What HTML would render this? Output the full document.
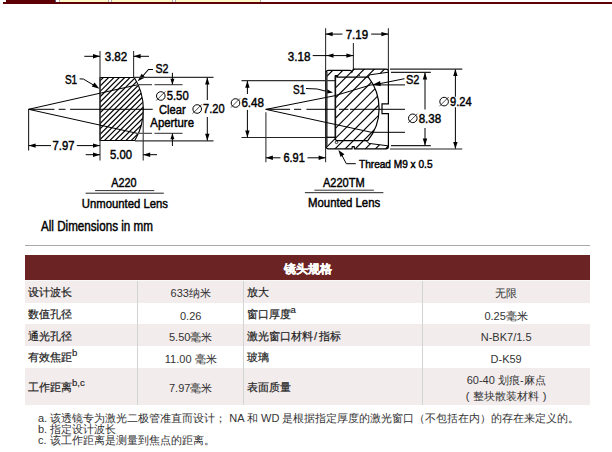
<!DOCTYPE html>
<html><head><meta charset="utf-8"><style>
html,body{margin:0;padding:0;background:#fff;width:612px;height:452px;overflow:hidden;position:relative;font-family:"Liberation Sans",sans-serif;}
.abs{position:absolute}
.tb{position:absolute;left:25px;top:255px;width:565px;}
.row{position:absolute;left:25px;width:565px;}
.c{position:absolute;top:0;bottom:0;font-size:11px;color:#222;}
</style></head><body>
<!-- top tabs -->
<div class="abs" style="left:3px;top:2px;width:609px;height:2px;background:#5e0004"></div>
<div class="abs" style="left:6px;top:0;width:49px;height:2px;background:#5e0004"></div>
<div class="abs" style="left:55px;top:0;width:1px;height:2px;background:#4a5a7a"></div>
<div class="abs" style="left:59px;top:0;width:1px;height:2px;background:#aaa"></div>
<div class="abs" style="left:60px;top:0;width:48px;height:2px;background:#fff8c8"></div>
<div class="abs" style="left:108px;top:0;width:1px;height:2px;background:#aaa"></div>
<div class="abs" style="left:111px;top:0;width:1px;height:2px;background:#aaa"></div>
<div class="abs" style="left:112px;top:0;width:60px;height:2px;background:#fff8c8"></div>
<div class="abs" style="left:172px;top:0;width:1px;height:2px;background:#aaa"></div>
<div class="abs" style="left:175px;top:0;width:1px;height:2px;background:#aaa"></div>
<div class="abs" style="left:176px;top:0;width:84px;height:2px;background:#fff8c8"></div>
<div class="abs" style="left:260px;top:0;width:1px;height:2px;background:#aaa"></div>
<svg width="612" height="240" style="position:absolute;left:0;top:0" font-family="Liberation Sans, sans-serif" fill="#000"><defs><clipPath id="c1"><path d="M100,77.5 L134.3,77.5 A60.8,60.8 0 0 1 134.8,140.5 L100,140.5 Z"/></clipPath><clipPath id="c2"><path id="mountp" d=""/></clipPath></defs><g clip-path="url(#c1)"><line x1="-190.7" y1="157.5" x2="-100.7" y2="67.5" stroke="#000" stroke-width="1.2"/><line x1="-185.34999999999997" y1="157.5" x2="-95.34999999999998" y2="67.5" stroke="#000" stroke-width="1.2"/><line x1="-180.0" y1="157.5" x2="-89.99999999999999" y2="67.5" stroke="#000" stroke-width="1.2"/><line x1="-174.64999999999998" y1="157.5" x2="-84.64999999999999" y2="67.5" stroke="#000" stroke-width="1.2"/><line x1="-169.3" y1="157.5" x2="-79.3" y2="67.5" stroke="#000" stroke-width="1.2"/><line x1="-163.95" y1="157.5" x2="-73.95" y2="67.5" stroke="#000" stroke-width="1.2"/><line x1="-158.59999999999997" y1="157.5" x2="-68.59999999999998" y2="67.5" stroke="#000" stroke-width="1.2"/><line x1="-153.25" y1="157.5" x2="-63.249999999999986" y2="67.5" stroke="#000" stroke-width="1.2"/><line x1="-147.89999999999998" y1="157.5" x2="-57.89999999999999" y2="67.5" stroke="#000" stroke-width="1.2"/><line x1="-142.55" y1="157.5" x2="-52.55" y2="67.5" stroke="#000" stroke-width="1.2"/><line x1="-137.2" y1="157.5" x2="-47.2" y2="67.5" stroke="#000" stroke-width="1.2"/><line x1="-131.84999999999997" y1="157.5" x2="-41.84999999999998" y2="67.5" stroke="#000" stroke-width="1.2"/><line x1="-126.49999999999999" y1="157.5" x2="-36.499999999999986" y2="67.5" stroke="#000" stroke-width="1.2"/><line x1="-121.14999999999999" y1="157.5" x2="-31.14999999999999" y2="67.5" stroke="#000" stroke-width="1.2"/><line x1="-115.8" y1="157.5" x2="-25.799999999999997" y2="67.5" stroke="#000" stroke-width="1.2"/><line x1="-110.45" y1="157.5" x2="-20.450000000000003" y2="67.5" stroke="#000" stroke-width="1.2"/><line x1="-105.09999999999998" y1="157.5" x2="-15.09999999999998" y2="67.5" stroke="#000" stroke-width="1.2"/><line x1="-99.75" y1="157.5" x2="-9.75" y2="67.5" stroke="#000" stroke-width="1.2"/><line x1="-94.39999999999999" y1="157.5" x2="-4.3999999999999915" y2="67.5" stroke="#000" stroke-width="1.2"/><line x1="-89.05" y1="157.5" x2="0.9500000000000028" y2="67.5" stroke="#000" stroke-width="1.2"/><line x1="-83.7" y1="157.5" x2="6.299999999999997" y2="67.5" stroke="#000" stroke-width="1.2"/><line x1="-78.35" y1="157.5" x2="11.650000000000006" y2="67.5" stroke="#000" stroke-width="1.2"/><line x1="-73.0" y1="157.5" x2="17.0" y2="67.5" stroke="#000" stroke-width="1.2"/><line x1="-67.64999999999999" y1="157.5" x2="22.35000000000001" y2="67.5" stroke="#000" stroke-width="1.2"/><line x1="-62.3" y1="157.5" x2="27.700000000000003" y2="67.5" stroke="#000" stroke-width="1.2"/><line x1="-56.95" y1="157.5" x2="33.05" y2="67.5" stroke="#000" stroke-width="1.2"/><line x1="-51.599999999999994" y1="157.5" x2="38.400000000000006" y2="67.5" stroke="#000" stroke-width="1.2"/><line x1="-46.25" y1="157.5" x2="43.75" y2="67.5" stroke="#000" stroke-width="1.2"/><line x1="-40.89999999999999" y1="157.5" x2="49.10000000000001" y2="67.5" stroke="#000" stroke-width="1.2"/><line x1="-35.55" y1="157.5" x2="54.45" y2="67.5" stroke="#000" stroke-width="1.2"/><line x1="-30.200000000000003" y1="157.5" x2="59.8" y2="67.5" stroke="#000" stroke-width="1.2"/><line x1="-24.85" y1="157.5" x2="65.15" y2="67.5" stroke="#000" stroke-width="1.2"/><line x1="-19.5" y1="157.5" x2="70.5" y2="67.5" stroke="#000" stroke-width="1.2"/><line x1="-14.150000000000006" y1="157.5" x2="75.85" y2="67.5" stroke="#000" stroke-width="1.2"/><line x1="-8.799999999999997" y1="157.5" x2="81.2" y2="67.5" stroke="#000" stroke-width="1.2"/><line x1="-3.450000000000003" y1="157.5" x2="86.55" y2="67.5" stroke="#000" stroke-width="1.2"/><line x1="1.9000000000000057" y1="157.5" x2="91.9" y2="67.5" stroke="#000" stroke-width="1.2"/><line x1="7.25" y1="157.5" x2="97.25" y2="67.5" stroke="#000" stroke-width="1.2"/><line x1="12.599999999999994" y1="157.5" x2="102.6" y2="67.5" stroke="#000" stroke-width="1.2"/><line x1="17.950000000000003" y1="157.5" x2="107.95" y2="67.5" stroke="#000" stroke-width="1.2"/><line x1="23.299999999999997" y1="157.5" x2="113.3" y2="67.5" stroke="#000" stroke-width="1.2"/><line x1="28.64999999999999" y1="157.5" x2="118.64999999999999" y2="67.5" stroke="#000" stroke-width="1.2"/><line x1="34.0" y1="157.5" x2="124.0" y2="67.5" stroke="#000" stroke-width="1.2"/><line x1="39.349999999999994" y1="157.5" x2="129.35" y2="67.5" stroke="#000" stroke-width="1.2"/><line x1="44.69999999999999" y1="157.5" x2="134.7" y2="67.5" stroke="#000" stroke-width="1.2"/><line x1="50.05000000000001" y1="157.5" x2="140.05" y2="67.5" stroke="#000" stroke-width="1.2"/><line x1="55.39999999999998" y1="157.5" x2="145.39999999999998" y2="67.5" stroke="#000" stroke-width="1.2"/><line x1="60.75" y1="157.5" x2="150.75" y2="67.5" stroke="#000" stroke-width="1.2"/><line x1="66.1" y1="157.5" x2="156.1" y2="67.5" stroke="#000" stroke-width="1.2"/><line x1="71.44999999999999" y1="157.5" x2="161.45" y2="67.5" stroke="#000" stroke-width="1.2"/><line x1="76.80000000000001" y1="157.5" x2="166.8" y2="67.5" stroke="#000" stroke-width="1.2"/><line x1="82.14999999999998" y1="157.5" x2="172.14999999999998" y2="67.5" stroke="#000" stroke-width="1.2"/><line x1="87.5" y1="157.5" x2="177.5" y2="67.5" stroke="#000" stroke-width="1.2"/><line x1="92.85" y1="157.5" x2="182.85" y2="67.5" stroke="#000" stroke-width="1.2"/><line x1="98.19999999999999" y1="157.5" x2="188.2" y2="67.5" stroke="#000" stroke-width="1.2"/><line x1="103.55000000000001" y1="157.5" x2="193.55" y2="67.5" stroke="#000" stroke-width="1.2"/><line x1="108.89999999999998" y1="157.5" x2="198.89999999999998" y2="67.5" stroke="#000" stroke-width="1.2"/><line x1="114.25" y1="157.5" x2="204.25" y2="67.5" stroke="#000" stroke-width="1.2"/><line x1="119.6" y1="157.5" x2="209.6" y2="67.5" stroke="#000" stroke-width="1.2"/><line x1="124.94999999999999" y1="157.5" x2="214.95" y2="67.5" stroke="#000" stroke-width="1.2"/><line x1="130.3" y1="157.5" x2="220.3" y2="67.5" stroke="#000" stroke-width="1.2"/><line x1="135.64999999999998" y1="157.5" x2="225.64999999999998" y2="67.5" stroke="#000" stroke-width="1.2"/><line x1="141.0" y1="157.5" x2="231.0" y2="67.5" stroke="#000" stroke-width="1.2"/><line x1="146.35" y1="157.5" x2="236.35" y2="67.5" stroke="#000" stroke-width="1.2"/><line x1="151.7" y1="157.5" x2="241.7" y2="67.5" stroke="#000" stroke-width="1.2"/><line x1="157.05" y1="157.5" x2="247.05" y2="67.5" stroke="#000" stroke-width="1.2"/><line x1="162.39999999999998" y1="157.5" x2="252.39999999999998" y2="67.5" stroke="#000" stroke-width="1.2"/><line x1="167.75" y1="157.5" x2="257.75" y2="67.5" stroke="#000" stroke-width="1.2"/><line x1="173.09999999999997" y1="157.5" x2="263.09999999999997" y2="67.5" stroke="#000" stroke-width="1.2"/><line x1="178.45" y1="157.5" x2="268.45" y2="67.5" stroke="#000" stroke-width="1.2"/><line x1="183.8" y1="157.5" x2="273.8" y2="67.5" stroke="#000" stroke-width="1.2"/><line x1="189.14999999999998" y1="157.5" x2="279.15" y2="67.5" stroke="#000" stroke-width="1.2"/><line x1="194.5" y1="157.5" x2="284.5" y2="67.5" stroke="#000" stroke-width="1.2"/><line x1="199.84999999999997" y1="157.5" x2="289.84999999999997" y2="67.5" stroke="#000" stroke-width="1.2"/><line x1="205.2" y1="157.5" x2="295.2" y2="67.5" stroke="#000" stroke-width="1.2"/><line x1="210.55" y1="157.5" x2="300.55" y2="67.5" stroke="#000" stroke-width="1.2"/><line x1="215.89999999999998" y1="157.5" x2="305.9" y2="67.5" stroke="#000" stroke-width="1.2"/><line x1="221.25" y1="157.5" x2="311.25" y2="67.5" stroke="#000" stroke-width="1.2"/><line x1="226.59999999999997" y1="157.5" x2="316.59999999999997" y2="67.5" stroke="#000" stroke-width="1.2"/><line x1="231.95" y1="157.5" x2="321.95" y2="67.5" stroke="#000" stroke-width="1.2"/></g><path d="M100,77.5 L134.3,77.5 A60.8,60.8 0 0 1 134.8,140.5 L100,140.5 Z" stroke="#000" stroke-width="1.1" fill="none" /><line x1="100" y1="51" x2="100" y2="160.5" stroke="#333" stroke-width="1.1" /><line x1="133.6" y1="51" x2="133.6" y2="77.5" stroke="#333" stroke-width="1.1" /><line x1="143.2" y1="109" x2="143.2" y2="160.5" stroke="#333" stroke-width="1.1" /><line x1="28.6" y1="109.3" x2="28.6" y2="150.5" stroke="#222" stroke-width="1.1" /><line x1="84.3" y1="56.3" x2="100" y2="56.3" stroke="#000" stroke-width="1" /><polygon points="100.00,56.30 93.00,58.50 93.00,54.10" fill="#000"/><line x1="149" y1="56.3" x2="133.6" y2="56.3" stroke="#000" stroke-width="1" /><polygon points="133.60,56.30 140.60,54.10 140.60,58.50" fill="#000"/><text x="104.7" y="61" font-size="13" textLength="22.599999999999994" lengthAdjust="spacingAndGlyphs" font-weight="normal" stroke="#000" stroke-width="0.45">3.82</text><line x1="28.6" y1="145.6" x2="51" y2="145.6" stroke="#000" stroke-width="1" /><polygon points="28.60,145.60 35.60,143.40 35.60,147.80" fill="#000"/><line x1="76.8" y1="145.6" x2="100" y2="145.6" stroke="#000" stroke-width="1" /><polygon points="100.00,145.60 93.00,147.80 93.00,143.40" fill="#000"/><text x="52.5" y="150" font-size="13" textLength="21.900000000000006" lengthAdjust="spacingAndGlyphs" font-weight="normal" stroke="#000" stroke-width="0.45">7.97</text><line x1="85.7" y1="154.7" x2="100" y2="154.7" stroke="#000" stroke-width="1" /><polygon points="100.00,154.70 93.00,156.90 93.00,152.50" fill="#000"/><line x1="157" y1="154.7" x2="143.2" y2="154.7" stroke="#000" stroke-width="1" /><polygon points="143.20,154.70 150.20,152.50 150.20,156.90" fill="#000"/><text x="110" y="158.8" font-size="13" textLength="22" lengthAdjust="spacingAndGlyphs" font-weight="normal" stroke="#000" stroke-width="0.45">5.00</text><text x="64.9" y="83.9" font-size="13.6" textLength="12.299999999999997" lengthAdjust="spacingAndGlyphs" font-weight="normal" stroke="#000" stroke-width="0.45">S1</text><path d="M79.6,78.9 L83.3,79 L95,85.9" stroke="#000" stroke-width="1" fill="none" /><polygon points="99.40,88.70 91.77,86.62 94.55,82.46" fill="#000"/><text x="155.4" y="72.9" font-size="13.6" textLength="13.0" lengthAdjust="spacingAndGlyphs" font-weight="normal" stroke="#000" stroke-width="0.45">S2</text><path d="M153,69.5 L148.5,69.5 L141.5,77.5" stroke="#000" stroke-width="1.1" fill="none" /><polygon points="137.60,81.20 141.61,73.81 145.19,77.58" fill="#000"/><line x1="134" y1="77.4" x2="213.5" y2="77.4" stroke="#333" stroke-width="1.3" /><line x1="135" y1="140.8" x2="213.5" y2="140.8" stroke="#333" stroke-width="1.3" /><path d="M137,84.7 L152,84.7 M154.5,84.7 L182.5,84.7" stroke="#555" stroke-width="1.3" fill="none" /><path d="M137,133.3 L152,133.3 M154.5,133.3 L182.5,133.3" stroke="#555" stroke-width="1.3" fill="none" /><line x1="28.6" y1="109.3" x2="137" y2="84.9" stroke="#000" stroke-width="1" /><line x1="28.6" y1="109.3" x2="137" y2="133.3" stroke="#000" stroke-width="1" /><path d="M28.6,109.3 L54.4,109.3 M58.7,109.3 L65.5,109.3 M70.1,109.3 L152.7,109.3" stroke="#000" stroke-width="1" fill="none" /><line x1="172.4" y1="72.8" x2="172.4" y2="84.5" stroke="#000" stroke-width="1" /><polygon points="172.40,84.70 170.40,78.70 174.40,78.70" fill="#000"/><line x1="172.4" y1="146" x2="172.4" y2="133.5" stroke="#000" stroke-width="1" /><polygon points="172.40,133.30 174.40,139.30 170.40,139.30" fill="#000"/><circle cx="160.8" cy="96.0" r="4.3" fill="none" stroke="#000" stroke-width="1"/><line x1="156.20000000000002" y1="100.6" x2="165.4" y2="91.4" stroke="#000" stroke-width="0.7"/><text x="166.70000000000002" y="100.4" font-size="13" textLength="21.99999999999997" lengthAdjust="spacingAndGlyphs" font-weight="normal" stroke="#000" stroke-width="0.45">5.50</text><text x="159" y="113.9" font-size="13" textLength="26.69999999999999" lengthAdjust="spacingAndGlyphs" font-weight="normal" stroke="#000" stroke-width="0.45">Clear</text><text x="150.3" y="126.8" font-size="13" textLength="43.69999999999999" lengthAdjust="spacingAndGlyphs" font-weight="normal" stroke="#000" stroke-width="0.45">Aperture</text><line x1="207.3" y1="77.6" x2="207.3" y2="100" stroke="#000" stroke-width="1" /><polygon points="207.30,77.40 209.50,84.40 205.10,84.40" fill="#000"/><line x1="207.3" y1="117" x2="207.3" y2="140.6" stroke="#000" stroke-width="1" /><polygon points="207.30,140.80 205.10,133.80 209.50,133.80" fill="#000"/><circle cx="197.2" cy="109.0" r="4.3" fill="none" stroke="#000" stroke-width="1"/><line x1="192.6" y1="113.6" x2="201.79999999999998" y2="104.4" stroke="#000" stroke-width="0.7"/><text x="203.1" y="113.4" font-size="13" textLength="21.5" lengthAdjust="spacingAndGlyphs" font-weight="normal" stroke="#000" stroke-width="0.45">7.20</text><text x="111.3" y="187.2" font-size="13" textLength="25.299999999999997" lengthAdjust="spacingAndGlyphs" font-weight="normal" stroke="#000" stroke-width="0.45">A220</text><line x1="95.1" y1="190.6" x2="154.3" y2="190.6" stroke="#333" stroke-width="1" /><line x1="85.6" y1="193.2" x2="163.8" y2="193.2" stroke="#222" stroke-width="1" /><text x="81.8" y="207.5" font-size="13" textLength="86.2" lengthAdjust="spacingAndGlyphs" font-weight="normal" stroke="#000" stroke-width="0.45">Unmounted Lens</text><text x="41" y="230.6" font-size="14" textLength="111.9" lengthAdjust="spacingAndGlyphs" font-weight="normal" stroke="#000" stroke-width="0.45">All Dimensions in mm</text><line x1="325.6" y1="28.2" x2="325.6" y2="162.2" stroke="#333" stroke-width="1.1" /><line x1="388.4" y1="28.2" x2="388.4" y2="70" stroke="#333" stroke-width="1.1" /><line x1="353.4" y1="43.1" x2="353.4" y2="70" stroke="#333" stroke-width="1.1" /><line x1="325.6" y1="34.1" x2="342.4" y2="34.1" stroke="#000" stroke-width="1" /><polygon points="325.60,34.10 332.60,31.90 332.60,36.30" fill="#000"/><line x1="371.2" y1="34.1" x2="388.4" y2="34.1" stroke="#000" stroke-width="1" /><polygon points="388.40,34.10 381.40,36.30 381.40,31.90" fill="#000"/><text x="345.7" y="39.2" font-size="13" textLength="22.5" lengthAdjust="spacingAndGlyphs" font-weight="normal" stroke="#000" stroke-width="0.45">7.19</text><line x1="312.7" y1="55.6" x2="353.4" y2="55.6" stroke="#000" stroke-width="1" /><polygon points="326.50,55.60 333.50,53.40 333.50,57.80" fill="#000"/><polygon points="353.40,55.60 346.40,57.80 346.40,53.40" fill="#000"/><text x="287.8" y="61" font-size="13" textLength="22.599999999999966" lengthAdjust="spacingAndGlyphs" font-weight="normal" stroke="#000" stroke-width="0.45">3.18</text><line x1="241.5" y1="80.7" x2="335" y2="80.7" stroke="#333" stroke-width="1.3" /><line x1="241.5" y1="137.5" x2="335" y2="137.5" stroke="#222" stroke-width="1.2" /><line x1="247.4" y1="81" x2="247.4" y2="94" stroke="#000" stroke-width="1" /><polygon points="247.40,80.70 249.60,87.70 245.20,87.70" fill="#000"/><line x1="247.4" y1="109.9" x2="247.4" y2="137.2" stroke="#000" stroke-width="1" /><polygon points="247.40,137.60 245.20,130.60 249.60,130.60" fill="#000"/><circle cx="235.5" cy="103.0" r="4.3" fill="none" stroke="#000" stroke-width="1"/><line x1="230.9" y1="107.6" x2="240.1" y2="98.4" stroke="#000" stroke-width="0.7"/><text x="241.4" y="107.4" font-size="13" textLength="22.599999999999994" lengthAdjust="spacingAndGlyphs" font-weight="normal" stroke="#000" stroke-width="0.45">6.48</text><line x1="265.9" y1="112.3" x2="265.9" y2="162.2" stroke="#333" stroke-width="1.1" /><line x1="265.9" y1="157.8" x2="280.5" y2="157.8" stroke="#000" stroke-width="1" /><polygon points="265.90,157.80 272.90,155.60 272.90,160.00" fill="#000"/><line x1="307.5" y1="157.8" x2="325.6" y2="157.8" stroke="#000" stroke-width="1" /><polygon points="325.60,157.80 318.60,160.00 318.60,155.60" fill="#000"/><text x="283.4" y="162" font-size="13" textLength="21.400000000000034" lengthAdjust="spacingAndGlyphs" font-weight="normal" stroke="#000" stroke-width="0.45">6.91</text><text x="293" y="94" font-size="13.6" textLength="12.300000000000011" lengthAdjust="spacingAndGlyphs" font-weight="normal" stroke="#000" stroke-width="0.45">S1</text><path d="M306,88.5 Q318,88 327,91.5" stroke="#000" stroke-width="1" fill="none" /><polygon points="333.00,92.50 325.70,93.72 326.49,88.98" fill="#000"/><clipPath id="cm"><path d="M335.4,75.6 L337.5,75.6 L337.5,77.2 L368.3,77.2 A51,51 0 0 1 367.8,140.6 L337.6,140.6 Q335.4,140.6 335.4,138.4 Z"/><path d="M326,72.8 Q326,70.3 328.5,70.3 L350,70.3 Q351.6,70.3 352,72 L353.4,69.1 L386.2,69.1 Q388.4,69.1 388.4,71.3 L388.4,72.2 L369.5,74.9 L368.3,77.2 L326,77.2 Z"/><path d="M326,137.2 L335.4,137.2 L335.4,140.6 L366,140.6 L369,143.4 L388.4,145.9 L388.4,146.4 Q388.4,148.8 386,148.8 L354.4,148.8 L354.2,146.6 L352.3,146.6 L352,148.8 L328.5,148.8 Q326,148.8 326,146.3 Z"/></clipPath><g clip-path="url(#cm)"><line x1="-58.69999999999999" y1="209.3" x2="141.3" y2="9.299999999999997" stroke="#000" stroke-width="1.15"/><line x1="-48.599999999999966" y1="209.3" x2="151.40000000000003" y2="9.299999999999997" stroke="#000" stroke-width="1.15"/><line x1="-38.5" y1="209.3" x2="161.5" y2="9.299999999999997" stroke="#000" stroke-width="1.15"/><line x1="-28.399999999999977" y1="209.3" x2="171.60000000000002" y2="9.299999999999997" stroke="#000" stroke-width="1.15"/><line x1="-18.299999999999955" y1="209.3" x2="181.70000000000005" y2="9.299999999999997" stroke="#000" stroke-width="1.15"/><line x1="-8.199999999999989" y1="209.3" x2="191.8" y2="9.299999999999997" stroke="#000" stroke-width="1.15"/><line x1="1.900000000000034" y1="209.3" x2="201.90000000000003" y2="9.299999999999997" stroke="#000" stroke-width="1.15"/><line x1="12.000000000000028" y1="209.3" x2="212.00000000000003" y2="9.299999999999997" stroke="#000" stroke-width="1.15"/><line x1="22.100000000000023" y1="209.3" x2="222.10000000000002" y2="9.299999999999997" stroke="#000" stroke-width="1.15"/><line x1="32.20000000000002" y1="209.3" x2="232.20000000000002" y2="9.299999999999997" stroke="#000" stroke-width="1.15"/><line x1="42.30000000000001" y1="209.3" x2="242.3" y2="9.299999999999997" stroke="#000" stroke-width="1.15"/><line x1="52.400000000000006" y1="209.3" x2="252.4" y2="9.299999999999997" stroke="#000" stroke-width="1.15"/><line x1="62.50000000000003" y1="209.3" x2="262.5" y2="9.299999999999997" stroke="#000" stroke-width="1.15"/><line x1="72.60000000000002" y1="209.3" x2="272.6" y2="9.299999999999997" stroke="#000" stroke-width="1.15"/><line x1="82.70000000000002" y1="209.3" x2="282.70000000000005" y2="9.299999999999997" stroke="#000" stroke-width="1.15"/><line x1="92.80000000000001" y1="209.3" x2="292.8" y2="9.299999999999997" stroke="#000" stroke-width="1.15"/><line x1="102.9" y1="209.3" x2="302.9" y2="9.299999999999997" stroke="#000" stroke-width="1.15"/><line x1="113.00000000000003" y1="209.3" x2="313.0" y2="9.299999999999997" stroke="#000" stroke-width="1.15"/><line x1="123.10000000000002" y1="209.3" x2="323.1" y2="9.299999999999997" stroke="#000" stroke-width="1.15"/><line x1="133.20000000000002" y1="209.3" x2="333.20000000000005" y2="9.299999999999997" stroke="#000" stroke-width="1.15"/><line x1="143.3" y1="209.3" x2="343.3" y2="9.299999999999997" stroke="#000" stroke-width="1.15"/><line x1="153.40000000000003" y1="209.3" x2="353.40000000000003" y2="9.299999999999997" stroke="#000" stroke-width="1.15"/><line x1="163.5" y1="209.3" x2="363.5" y2="9.299999999999997" stroke="#000" stroke-width="1.15"/><line x1="173.60000000000002" y1="209.3" x2="373.6" y2="9.299999999999997" stroke="#000" stroke-width="1.15"/><line x1="183.70000000000005" y1="209.3" x2="383.70000000000005" y2="9.299999999999997" stroke="#000" stroke-width="1.15"/><line x1="193.8" y1="209.3" x2="393.8" y2="9.299999999999997" stroke="#000" stroke-width="1.15"/><line x1="203.90000000000003" y1="209.3" x2="403.90000000000003" y2="9.299999999999997" stroke="#000" stroke-width="1.15"/><line x1="214.0" y1="209.3" x2="414.0" y2="9.299999999999997" stroke="#000" stroke-width="1.15"/><line x1="224.10000000000002" y1="209.3" x2="424.1" y2="9.299999999999997" stroke="#000" stroke-width="1.15"/><line x1="234.2" y1="209.3" x2="434.2" y2="9.299999999999997" stroke="#000" stroke-width="1.15"/><line x1="244.3" y1="209.3" x2="444.3" y2="9.299999999999997" stroke="#000" stroke-width="1.15"/><line x1="254.40000000000003" y1="209.3" x2="454.40000000000003" y2="9.299999999999997" stroke="#000" stroke-width="1.15"/><line x1="264.5" y1="209.3" x2="464.5" y2="9.299999999999997" stroke="#000" stroke-width="1.15"/><line x1="274.6" y1="209.3" x2="474.6" y2="9.299999999999997" stroke="#000" stroke-width="1.15"/><line x1="284.7" y1="209.3" x2="484.7" y2="9.299999999999997" stroke="#000" stroke-width="1.15"/><line x1="294.8" y1="209.3" x2="494.8" y2="9.299999999999997" stroke="#000" stroke-width="1.15"/><line x1="304.9" y1="209.3" x2="504.9" y2="9.299999999999997" stroke="#000" stroke-width="1.15"/><line x1="315.0" y1="209.3" x2="515.0" y2="9.299999999999997" stroke="#000" stroke-width="1.15"/><line x1="325.1" y1="209.3" x2="525.1" y2="9.299999999999997" stroke="#000" stroke-width="1.15"/><line x1="335.2" y1="209.3" x2="535.2" y2="9.299999999999997" stroke="#000" stroke-width="1.15"/><line x1="345.3" y1="209.3" x2="545.3" y2="9.299999999999997" stroke="#000" stroke-width="1.15"/><line x1="355.4" y1="209.3" x2="555.4" y2="9.299999999999997" stroke="#000" stroke-width="1.15"/><line x1="365.5" y1="209.3" x2="565.5" y2="9.299999999999997" stroke="#000" stroke-width="1.15"/><line x1="375.6" y1="209.3" x2="575.6" y2="9.299999999999997" stroke="#000" stroke-width="1.15"/><line x1="385.70000000000005" y1="209.3" x2="585.7" y2="9.299999999999997" stroke="#000" stroke-width="1.15"/><line x1="395.8" y1="209.3" x2="595.8" y2="9.299999999999997" stroke="#000" stroke-width="1.15"/><line x1="405.9" y1="209.3" x2="605.9" y2="9.299999999999997" stroke="#000" stroke-width="1.15"/><line x1="416.0" y1="209.3" x2="616.0" y2="9.299999999999997" stroke="#000" stroke-width="1.15"/><line x1="426.1" y1="209.3" x2="626.1" y2="9.299999999999997" stroke="#000" stroke-width="1.15"/><line x1="436.20000000000005" y1="209.3" x2="636.2" y2="9.299999999999997" stroke="#000" stroke-width="1.15"/><line x1="446.29999999999995" y1="209.3" x2="646.3" y2="9.299999999999997" stroke="#000" stroke-width="1.15"/><line x1="456.4" y1="209.3" x2="656.4" y2="9.299999999999997" stroke="#000" stroke-width="1.15"/><line x1="466.5" y1="209.3" x2="666.5" y2="9.299999999999997" stroke="#000" stroke-width="1.15"/><line x1="476.6" y1="209.3" x2="676.6" y2="9.299999999999997" stroke="#000" stroke-width="1.15"/><line x1="486.70000000000005" y1="209.3" x2="686.7" y2="9.299999999999997" stroke="#000" stroke-width="1.15"/><line x1="496.79999999999995" y1="209.3" x2="696.8" y2="9.299999999999997" stroke="#000" stroke-width="1.15"/><line x1="506.9" y1="209.3" x2="706.9" y2="9.299999999999997" stroke="#000" stroke-width="1.15"/><line x1="517.0" y1="209.3" x2="717.0" y2="9.299999999999997" stroke="#000" stroke-width="1.15"/><line x1="527.1" y1="209.3" x2="727.1" y2="9.299999999999997" stroke="#000" stroke-width="1.15"/><line x1="537.2" y1="209.3" x2="737.2" y2="9.299999999999997" stroke="#000" stroke-width="1.15"/></g><path d="M326,72.8 Q326,70.3 328.5,70.3 L350,70.3 Q351.6,70.3 352,72 L353.4,69.1 L386.2,69.1 Q388.4,69.1 388.4,71.3 L388.4,103.8 L382,103.8 L382,113.7 L388.4,113.7 L388.4,146.4 Q388.4,148.8 386,148.8 L354.4,148.8 L354.2,146.6 L352.3,146.6 L352,148.8 L328.5,148.8 Q326,148.8 326,146.3 Z" stroke="#000" stroke-width="1.2" fill="none" /><line x1="326.6" y1="72" x2="326.6" y2="146.5" stroke="#3a3a3a" stroke-width="2" /><path d="M335.4,75.6 L337.5,75.6 L337.5,77.2 L368.3,77.2 A51,51 0 0 1 367.8,140.6 L337.6,140.6 Q335.4,140.6 335.4,138.4 Z" stroke="#000" stroke-width="1.2" fill="none" /><line x1="335.4" y1="76" x2="335.4" y2="138" stroke="#111" stroke-width="1.5" /><line x1="326" y1="137.2" x2="335.4" y2="137.2" stroke="#000" stroke-width="1" /><path d="M368.3,77.2 L369.5,74.9 L388.4,72.2" stroke="#000" stroke-width="1" fill="none" /><path d="M366,140.6 L369,143.4 L388.4,145.9" stroke="#000" stroke-width="1" fill="none" /><circle cx="359.2" cy="75.4" r="0.6" fill="#000"/><path d="M265.9,109.4 L334.9,95.7 L371,84.9 L405,84.9" stroke="#000" stroke-width="1" fill="none" /><path d="M265.9,109.4 L371.5,132.3 L405,132.3" stroke="#000" stroke-width="1" fill="none" /><path d="M265.6,109.3 L290.1,109.3 M294,109.3 L301.2,109.3 M306.4,109.3 L335,109.3 M339,109.3 L348.4,109.3 M349.9,109.3 L405,109.3" stroke="#000" stroke-width="1" fill="none" /><text x="406" y="84" font-size="13.6" textLength="13.399999999999977" lengthAdjust="spacingAndGlyphs" font-weight="normal" stroke="#000" stroke-width="0.45">S2</text><path d="M404.5,78.7 L380,83.6" stroke="#000" stroke-width="1" fill="none" /><polygon points="372.60,84.80 380.10,81.05 380.90,85.99" fill="#000"/><line x1="390" y1="69.1" x2="462.3" y2="69.1" stroke="#222" stroke-width="1.1" /><line x1="390" y1="149" x2="462.3" y2="149" stroke="#222" stroke-width="1.1" /><line x1="455.4" y1="69.5" x2="455.4" y2="96.8" stroke="#000" stroke-width="1" /><polygon points="455.40,69.10 457.60,76.10 453.20,76.10" fill="#000"/><line x1="455.4" y1="107.2" x2="455.4" y2="148.6" stroke="#000" stroke-width="1" /><polygon points="455.40,149.00 453.20,142.00 457.60,142.00" fill="#000"/><circle cx="444.1" cy="101.6" r="4.3" fill="none" stroke="#000" stroke-width="1"/><line x1="439.5" y1="106.19999999999999" x2="448.70000000000005" y2="97.0" stroke="#000" stroke-width="0.7"/><text x="450.0" y="106" font-size="13" textLength="21.600000000000023" lengthAdjust="spacingAndGlyphs" font-weight="normal" stroke="#000" stroke-width="0.45">9.24</text><line x1="391" y1="72.4" x2="430.8" y2="72.4" stroke="#222" stroke-width="1.1" /><line x1="391" y1="145.6" x2="430.8" y2="145.6" stroke="#222" stroke-width="1.1" /><line x1="425" y1="72.8" x2="425" y2="109.5" stroke="#000" stroke-width="1" /><polygon points="425.00,72.40 427.20,79.40 422.80,79.40" fill="#000"/><line x1="425" y1="128" x2="425" y2="145.2" stroke="#000" stroke-width="1" /><polygon points="425.00,145.60 422.80,138.60 427.20,138.60" fill="#000"/><circle cx="412.8" cy="118.3" r="4.3" fill="none" stroke="#000" stroke-width="1"/><line x1="408.2" y1="122.89999999999999" x2="417.40000000000003" y2="113.7" stroke="#000" stroke-width="0.7"/><text x="418.7" y="122.7" font-size="13" textLength="22.5" lengthAdjust="spacingAndGlyphs" font-weight="normal" stroke="#000" stroke-width="0.45">8.38</text><path d="M355.8,163.7 L346.3,163.7 L341,153.5" stroke="#000" stroke-width="1" fill="none" /><polygon points="338.40,149.90 344.44,154.17 340.55,156.98" fill="#000"/><text x="359" y="168" font-size="11" textLength="73.5" lengthAdjust="spacingAndGlyphs" font-weight="normal" stroke="#000" stroke-width="0.45">Thread M9 x 0.5</text><circle cx="336.5" cy="142.3" r="1.3" fill="none" stroke="#000" stroke-width="0.8"/><text x="322.9" y="187" font-size="13" textLength="41.80000000000001" lengthAdjust="spacingAndGlyphs" font-weight="normal" stroke="#000" stroke-width="0.45">A220TM</text><line x1="314.4" y1="190.2" x2="373.9" y2="190.2" stroke="#333" stroke-width="1" /><line x1="304.9" y1="192.7" x2="383.4" y2="192.7" stroke="#222" stroke-width="1" /><text x="308" y="206.8" font-size="13" textLength="72.19999999999999" lengthAdjust="spacingAndGlyphs" font-weight="normal" stroke="#000" stroke-width="0.45">Mounted Lens</text></svg>
<div class="abs" style="left:25px;top:245px;width:565px;height:1px;background:#aaa"></div>
<div class="abs" style="left:25px;top:255px;width:565px;height:25px;background:#6c2324"></div>
<div class="abs" style="left:25px;top:259px;width:565px;text-align:center;color:#fff;font-size:12px;line-height:18px;font-weight:bold;-webkit-text-stroke:0.3px #fff;padding-top:1px">镜头规格</div>
<div class="abs" style="left:25px;top:280px;width:565px;height:23px;background:#f2ecec"></div>
<div class="abs" style="left:28px;top:280px;width:109.80000000000001px;height:23px;display:flex;align-items:center;font-size:11px;color:#222;padding-top:1.5px;box-sizing:border-box;-webkit-text-stroke:0.2px #222"><span>设计波长</span></div>
<div class="abs" style="left:137.8px;top:280px;width:105.79999999999998px;height:23px;display:flex;align-items:center;justify-content:center;text-align:center;font-size:11px;color:#333;line-height:16px;padding-top:3px;box-sizing:border-box"><span>633纳米</span></div>
<div class="abs" style="left:246.6px;top:280px;width:175.70000000000002px;height:23px;display:flex;align-items:center;font-size:11px;color:#222;padding-top:1.5px;box-sizing:border-box;-webkit-text-stroke:0.2px #222"><span>放大</span></div>
<div class="abs" style="left:422.3px;top:280px;width:167.7px;height:23px;display:flex;align-items:center;justify-content:center;text-align:center;font-size:11px;color:#333;line-height:16px;padding-top:3px;box-sizing:border-box"><span>无限</span></div>
<div class="abs" style="left:25px;top:303px;width:565px;height:21px;background:#fff"></div>
<div class="abs" style="left:28px;top:303px;width:109.80000000000001px;height:21px;display:flex;align-items:center;font-size:11px;color:#222;padding-top:1px;box-sizing:border-box;-webkit-text-stroke:0.2px #222"><span>数值孔径</span></div>
<div class="abs" style="left:137.8px;top:303px;width:105.79999999999998px;height:21px;display:flex;align-items:center;justify-content:center;text-align:center;font-size:11px;color:#333;line-height:16px;padding-top:4px;box-sizing:border-box"><span>0.26</span></div>
<div class="abs" style="left:246.6px;top:303px;width:175.70000000000002px;height:21px;display:flex;align-items:center;font-size:11px;color:#222;padding-top:1px;box-sizing:border-box;-webkit-text-stroke:0.2px #222"><span>窗口厚度<sup style="font-size:9.5px;line-height:0;vertical-align:5.5px;-webkit-text-stroke:0.15px #222">a</sup></span></div>
<div class="abs" style="left:422.3px;top:303px;width:167.7px;height:21px;display:flex;align-items:center;justify-content:center;text-align:center;font-size:11px;color:#333;line-height:16px;padding-top:4px;box-sizing:border-box"><span>0.25毫米</span></div>
<div class="abs" style="left:25px;top:324px;width:565px;height:21.5px;background:#f2ecec"></div>
<div class="abs" style="left:28px;top:324px;width:109.80000000000001px;height:21.5px;display:flex;align-items:center;font-size:11px;color:#222;padding-top:4px;box-sizing:border-box;-webkit-text-stroke:0.2px #222"><span>通光孔径</span></div>
<div class="abs" style="left:137.8px;top:324px;width:105.79999999999998px;height:21.5px;display:flex;align-items:center;justify-content:center;text-align:center;font-size:11px;color:#333;line-height:16px;padding-top:4px;box-sizing:border-box"><span>5.50毫米</span></div>
<div class="abs" style="left:246.6px;top:324px;width:175.70000000000002px;height:21.5px;display:flex;align-items:center;font-size:11px;color:#222;padding-top:4px;box-sizing:border-box;-webkit-text-stroke:0.2px #222"><span>激光窗口材料<span style="margin:0 1.5px">/</span>指标</span></div>
<div class="abs" style="left:422.3px;top:324px;width:167.7px;height:21.5px;display:flex;align-items:center;justify-content:center;text-align:center;font-size:11px;color:#333;line-height:16px;padding-top:4px;box-sizing:border-box"><span>N-BK7/1.5</span></div>
<div class="abs" style="left:25px;top:345.5px;width:565px;height:22.5px;background:#fff"></div>
<div class="abs" style="left:28px;top:345.5px;width:109.80000000000001px;height:22.5px;display:flex;align-items:center;font-size:11px;color:#222;padding-top:1px;box-sizing:border-box;-webkit-text-stroke:0.2px #222"><span>有效焦距<sup style="font-size:9.5px;line-height:0;vertical-align:5.5px;-webkit-text-stroke:0.15px #222">b</sup></span></div>
<div class="abs" style="left:137.8px;top:345.5px;width:105.79999999999998px;height:22.5px;display:flex;align-items:center;justify-content:center;text-align:center;font-size:11px;color:#333;line-height:16px;padding-top:4px;box-sizing:border-box"><span>11.00 毫米</span></div>
<div class="abs" style="left:246.6px;top:345.5px;width:175.70000000000002px;height:22.5px;display:flex;align-items:center;font-size:11px;color:#222;padding-top:1px;box-sizing:border-box;-webkit-text-stroke:0.2px #222"><span>玻璃</span></div>
<div class="abs" style="left:422.3px;top:345.5px;width:167.7px;height:22.5px;display:flex;align-items:center;justify-content:center;text-align:center;font-size:11px;color:#333;line-height:16px;padding-top:4px;box-sizing:border-box"><span>D-K59</span></div>
<div class="abs" style="left:25px;top:368px;width:565px;height:37px;background:#f2ecec"></div>
<div class="abs" style="left:28px;top:368px;width:109.80000000000001px;height:37px;display:flex;align-items:center;font-size:11px;color:#222;padding-top:1px;box-sizing:border-box;-webkit-text-stroke:0.2px #222"><span>工作距离<sup style="font-size:9.5px;line-height:0;vertical-align:5.5px;-webkit-text-stroke:0.15px #222">b,c</sup></span></div>
<div class="abs" style="left:137.8px;top:368px;width:105.79999999999998px;height:37px;display:flex;align-items:center;justify-content:center;text-align:center;font-size:11px;color:#333;line-height:16px;padding-top:3px;box-sizing:border-box"><span>7.97毫米</span></div>
<div class="abs" style="left:246.6px;top:368px;width:175.70000000000002px;height:37px;display:flex;align-items:center;font-size:11px;color:#222;padding-top:1px;box-sizing:border-box;-webkit-text-stroke:0.2px #222"><span>表面质量</span></div>
<div class="abs" style="left:422.3px;top:368px;width:167.7px;height:37px;display:flex;align-items:center;justify-content:center;text-align:center;font-size:11px;color:#333;line-height:16px;padding-top:3px;box-sizing:border-box"><span>60-40 划痕-麻点<br><span style="display:inline-block;width:11px;text-align:center">(</span>整块散装材料<span style="display:inline-block;width:11px;text-align:center">)</span></span></div>
<div class="abs" style="left:137.3px;top:281px;width:1px;height:124px;background:#d2d4d4"></div>
<div class="abs" style="left:243.1px;top:281px;width:1px;height:124px;background:#d2d4d4"></div>
<div class="abs" style="left:421.8px;top:281px;width:1px;height:124px;background:#d2d4d4"></div>
<div class="abs" style="left:25px;top:280px;width:565px;height:1px;background:#f8f8f8"></div>
<div class="abs" style="left:38px;top:413px;font-size:11px;line-height:11px;color:#333">a. 该透镜专为激光二极管准直而设计； NA 和 WD 是根据指定厚度的激光窗口（不包括在内）的存在来定义的。<br>b. 指定设计波长<br>c. 该工作距离是测量到焦点的距离。</div>
</body></html>
